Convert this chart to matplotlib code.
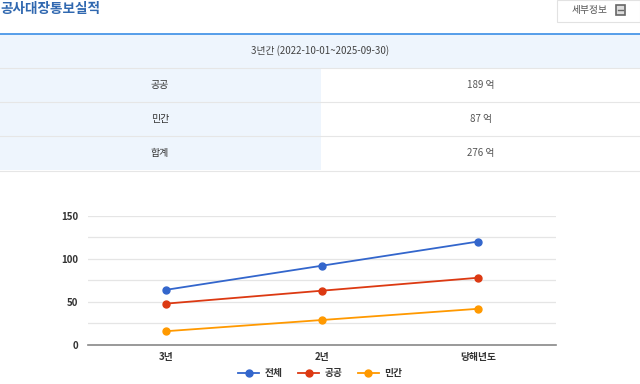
import matplotlib.pyplot as plt
from matplotlib.patches import Rectangle
from matplotlib.lines import Line2D

plt.rcParams['font.family'] = ['Noto Sans CJK KR', 'DejaVu Sans']

# data
categories = ['3년', '2년', '당해년도']
total = [64, 92, 120]
public = [48, 63, 78]
private = [16, 29, 42]
series_names = ['전체', '공공', '민간']
series_colors = ['#3366cc', '#dc3912', '#ff9900']

table_period = '3년간 (2022-10-01~2025-09-30)'
table_labels = ['공공', '민간', '합계']
table_values = [189, 87, 276]

W, H = 640, 384
fig = plt.figure(figsize=(W / 100, H / 100), dpi=100)


def fx(x):
    return x / W


def fy(y):
    return 1 - y / H


# ── header ─────────────────────────────
fig.text(fx(0), fy(9), '공사대장통보실적', fontsize=9.8, color='#3068b0',
         va='center', ha='left', fontweight='bold')
fig.patches.append(Rectangle((fx(557), fy(22)), fx(W - 557), 22 / H,
                             transform=fig.transFigure, facecolor='white',
                             edgecolor='#e2e2e2', linewidth=0.8))
fig.text(fx(590), fy(10), '세부정보', fontsize=7, color='#555555',
         va='center', ha='center')
fig.patches.append(Rectangle((fx(616), fy(15)), fx(9), 10 / H,
                             transform=fig.transFigure, facecolor='#dddddd',
                             edgecolor='#666666', linewidth=1.2))
fig.add_artist(Line2D([fx(618), fx(623)], [fy(9.5), fy(9.5)],
                      transform=fig.transFigure, color='#666666', linewidth=1))

# ── table ──────────────────────────────
fig.patches.append(Rectangle((0, fy(68)), 1, 34 / H, transform=fig.transFigure,
                             facecolor='#eef5fd', edgecolor='none'))
fig.add_artist(Line2D([0, 1], [fy(34), fy(34)], transform=fig.transFigure,
                      color='#3a8ee6', linewidth=1.2))
fig.text(0.5, fy(51), table_period, fontsize=7, color='#444444',
         ha='center', va='center')
row_top = 68
row_h = 34
for i, (lab, val) in enumerate(zip(table_labels, table_values)):
    y0 = row_top + i * row_h
    fig.patches.append(Rectangle((0, fy(y0 + row_h)), fx(321), row_h / H,
                                 transform=fig.transFigure,
                                 facecolor='#eef5fd', edgecolor='none'))
    fig.add_artist(Line2D([0, 1], [fy(y0), fy(y0)], transform=fig.transFigure,
                          color='#e6e6e6', linewidth=0.8))
    fig.text(fx(160), fy(y0 + row_h / 2), lab, fontsize=7.2, color='#333333',
             ha='center', va='center')
    fig.text(fx(481), fy(y0 + row_h / 2), f'{val} 억', fontsize=7,
             color='#555555', ha='center', va='center')
fig.add_artist(Line2D([0, 1], [fy(171), fy(171)], transform=fig.transFigure,
                      color='#e6e6e6', linewidth=0.8))

# ── chart ──────────────────────────────
ax = fig.add_axes([fx(88), fy(345), fx(556 - 88), (345 - 215.7) / H])
x = list(range(len(categories)))
for vals, name, col in zip([total, public, private], series_names, series_colors):
    ax.plot(x, vals, '-o', color=col, linewidth=1.3, markersize=5,
            label=name, zorder=3)

ax.set_xlim(-0.5, 2.5)
ax.set_ylim(0, 150)
ax.set_yticks([0, 50, 100, 150])
ax.set_yticks([25, 75, 125], minor=True)
ax.set_xticks(x)
ax.set_xticklabels(categories)
ax.grid(True, axis='y', which='both', color='#e5e5e5', linewidth=0.9)
for s in ['top', 'right', 'left']:
    ax.spines[s].set_visible(False)
ax.spines['bottom'].set_color('#888888')
ax.spines['bottom'].set_linewidth(1.2)
ax.tick_params(axis='both', which='both', length=0, labelsize=7,
               labelcolor='#333333')
ax.tick_params(axis='y', pad=7)
ax.tick_params(axis='x', pad=5)
for lbl in ax.get_xticklabels() + ax.get_yticklabels():
    lbl.set_fontweight('bold')

leg = ax.legend(loc='center', bbox_to_anchor=(0.5, fy(373)), bbox_transform=fig.transFigure,
                ncol=3, frameon=False, fontsize=7, handlelength=2.2,
                columnspacing=1.6, handletextpad=0.5)
for t in leg.get_texts():
    t.set_fontweight('bold')
    t.set_color('#333333')

fig.savefig('out.png', dpi=100)
